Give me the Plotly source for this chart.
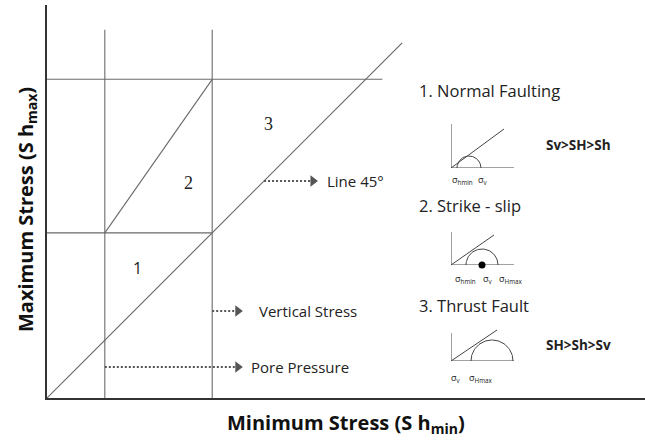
import numpy as np
import plotly.graph_objects as go

# main stress diagram (arbitrary stress units)
pore_pressure = 35
vertical_stress = 100
shmax_limit = 193
line_top = 223
limit_right = 203
line45_end = 215

region_labels = ["1", "2", "3"]
region_x = [54.5, 85.5, 134]
region_y = [79, 130, 166]

arrow_labels = ["Line 45°", "Vertical Stress", "Pore Pressure"]
arrow_start = [131.4, 100, 35]
arrow_end = [164, 118.5, 118.5]
arrow_y = [131.4, 52.7, 18.8]
arrow_text_x = [168, 127, 122]

# small Mohr diagrams
regime_titles = ["1. Normal Faulting", "2. Strike - slip", "3. Thrust Fault"]
regime_orders = ["Sv>SH>Sh", "", "SH>Sh>Sv"]
mohr_axis_h = [44, 33, 28]
mohr_line_end = [(53, 39), (43, 30), (46, 31)]
mohr_s3 = [6, 15, 20]
mohr_s1 = [30, 47, 62]
mohr_dot = [None, 31, None]
mohr_labels = [
    [(11, "σ<sub>hmin</sub>"), (32, "σ<sub>v</sub>")],
    [(14, "σ<sub>hmin</sub>"), (37, "σ<sub>v</sub>"), (59, "σ<sub>Hmax</sub>")],
    [(5, "σ<sub>v</sub>"), (29, "σ<sub>Hmax</sub>")],
]
mohr_label_y = [12, 14, 17]

W, H = 645, 441
L, T, B = 47, 5, 43
PW, PH = W - L, H - T - B

def px_x(px):
    return (px - L) / PW

def px_y(py):
    return (H - B - py) / PH

LINE = "#6a6a6a"
TXT = "#222222"
FONT = "Open Sans, sans-serif"

fig = go.Figure()

def seg(x, y, xa="x", ya="y", color=LINE, width=1.1, dash=None):
    fig.add_trace(go.Scatter(x=x, y=y, mode="lines", xaxis=xa, yaxis=ya,
                             line=dict(color=color, width=width, dash=dash),
                             hoverinfo="skip", showlegend=False))

def note(px, py, text, size, anchor="left", bold=False, angle=0, color=TXT):
    if bold:
        text = "<b>" + text + "</b>"
    fig.add_annotation(x=px_x(px), y=px_y(py), xref="paper", yref="paper", text=text,
                       xanchor=anchor, yanchor="middle", showarrow=False, textangle=angle,
                       font=dict(family=FONT, size=size, color=color))

# stress grid
seg([pore_pressure, pore_pressure], [0, line_top])
seg([vertical_stress, vertical_stress], [0, line_top])
seg([0, vertical_stress], [vertical_stress, vertical_stress])
seg([0, limit_right], [shmax_limit, shmax_limit])
seg([0, line45_end], [0, line45_end])
seg([pore_pressure, vertical_stress], [vertical_stress, shmax_limit])

for i in range(3):
    font = dict(family="Liberation Serif, serif", size=18, color=TXT) if i else \
        dict(family=FONT, size=16, color=TXT)
    fig.add_annotation(x=region_x[i], y=region_y[i], text=region_labels[i],
                       showarrow=False, font=font)

# dotted arrows
for i in range(3):
    seg([arrow_start[i], arrow_end[i] - 4], [arrow_y[i], arrow_y[i]],
        color="#555555", width=2, dash="2px,2px")
    fig.add_trace(go.Scatter(x=[arrow_end[i] - 3], y=[arrow_y[i]], mode="markers",
                             marker=dict(symbol="triangle-right", size=10, color="#555555"),
                             hoverinfo="skip", showlegend=False))
    fig.add_annotation(x=arrow_text_x[i], y=arrow_y[i], text=arrow_labels[i],
                       xanchor="left", yanchor="middle", showarrow=False,
                       font=dict(family=FONT, size=15, color=TXT))

# mohr diagrams, one small axis pair each
boxes = [168, 265, 361]
title_y = [90, 205, 305]
order_y = [145, None, 345]
for i in range(3):
    n = i + 2
    xa, ya = "x%d" % n, "y%d" % n
    oy = boxes[i]
    fig.update_layout(**{
        "xaxis%d" % n: dict(domain=[px_x(451), px_x(514)], range=[0, 63], anchor=ya,
                            visible=False, fixedrange=True),
        "yaxis%d" % n: dict(domain=[px_y(oy), px_y(oy - 44)], range=[0, 44], anchor=xa,
                            visible=False, fixedrange=True),
    })
    seg([0, 0, 63], [mohr_axis_h[i], 0, 0], xa, ya, color="#444444", width=1)
    lx, ly = mohr_line_end[i]
    seg([0, lx], [0, ly], xa, ya, color="#444444", width=1)
    c = (mohr_s1[i] + mohr_s3[i]) / 2
    r = (mohr_s1[i] - mohr_s3[i]) / 2
    t = np.linspace(0, np.pi, 60)
    seg(c + r * np.cos(t), r * np.sin(t), xa, ya, color="#444444", width=1)
    if mohr_dot[i] is not None:
        fig.add_trace(go.Scatter(x=[mohr_dot[i]], y=[0], mode="markers", xaxis=xa, yaxis=ya,
                                 marker=dict(size=7, color="black"), cliponaxis=False,
                                 hoverinfo="skip", showlegend=False))
    for mx, lab in mohr_labels[i]:
        fig.add_annotation(x=mx, y=0, xref=xa, yref=ya, text=lab, yshift=-mohr_label_y[i],
                           xanchor="center", yanchor="middle", showarrow=False,
                           font=dict(family=FONT, size=9, color=TXT))
    note(417, title_y[i], regime_titles[i], 16.5)
    if regime_orders[i]:
        note(544, order_y[i], regime_orders[i], 13.5, bold=True)

# axis titles
note(346, 423, "Minimum Stress (S h<sub>min</sub>)", 20, anchor="center", bold=True,
     color="#111111")
note(27, 210, "Maximum Stress (S h<sub>max</sub>)", 20, anchor="center", bold=True,
     angle=-90, color="#111111")

fig.update_layout(
    width=W, height=H,
    margin=dict(l=L, r=0, t=T, b=B),
    paper_bgcolor="white", plot_bgcolor="white",
    showlegend=False,
    xaxis=dict(range=[0, 362], showline=True, linewidth=2, linecolor="#333333",
               showgrid=False, zeroline=False, showticklabels=False, ticks="",
               fixedrange=True),
    yaxis=dict(range=[0, 238], showline=True, linewidth=2, linecolor="#333333",
               showgrid=False, zeroline=False, showticklabels=False, ticks="",
               fixedrange=True),
)

fig.write_html("out.html", config={"displayModeBar": False},
               post_script="document.body.style.margin='0px';document.body.style.overflow='hidden';")
